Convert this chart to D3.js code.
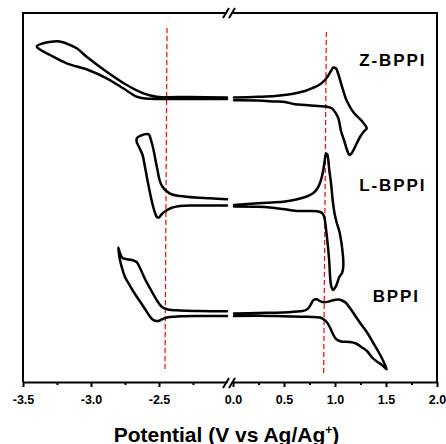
<!DOCTYPE html>
<html>
<head>
<meta charset="utf-8">
<script src="https://cdn.jsdelivr.net/npm/d3@7"></script>
<style>
  body { margin: 0; background: #fff; }
  svg { display: block; font-family: "Liberation Sans", Arial, sans-serif; }
  .curve { fill: none; stroke: #000; stroke-width: 2.5; stroke-linejoin: round; stroke-linecap: round; }
  .ref { fill: none; stroke: #ff0000; stroke-width: 1.2; stroke-dasharray: 5,3; }
  .frame { stroke: #000; stroke-width: 2; fill: none; }
  .axis path, .axis line { stroke: #000; stroke-width: 2; }
  .axis text { font-size: 12.5px; font-weight: bold; fill: #000; }
  .label { font-size: 17px; font-weight: bold; letter-spacing: 1.9px; }
  .title { font-size: 21px; font-weight: bold; }
</style>
</head>
<body>
<script>
// axis ticks
var tickLeft = [-3.5, -3.0, -2.5];
var minorLeft = [-3.25, -2.75, -2.25];
var tickRight = [0.0, 0.5, 1.0, 1.5, 2.0];
var minorRight = [0.25, 0.75, 1.25, 1.75];

// series names and label anchors [V, I]
var names = ["Z-BPPI", "L-BPPI", "BPPI"];
var labelPos = [[1.238, 316.3], [1.238, 191], [1.369, 79.7]];

// curves, [potential, current (offset, arb.)]
var zLeft = [[-2.0, 284.5], [-2.272, 285], [-2.517, 285.3], [-2.615, 288.7], [-2.737, 297], [-2.885, 310.3],
  [-3.032, 325.3], [-3.105, 333.7], [-3.154, 337], [-3.228, 340.5], [-3.277, 340.5], [-3.351, 338.7],
  [-3.399, 335.5], [-3.375, 332.5], [-3.301, 327], [-3.179, 318.7], [-3.020, 312], [-2.885, 303.7],
  [-2.763, 293.7], [-2.664, 285.3], [-2.615, 283.7], [-2.493, 283], [-2.272, 283], [-2.0, 283]];
var zRight = [[0.01, 284.5], [0.245, 285.2], [0.412, 286], [0.578, 288], [0.706, 291], [0.775, 293.7],
  [0.843, 297], [0.902, 302], [0.931, 306], [0.966, 312], [0.983, 314.5], [1.010, 313.5], [1.029, 309],
  [1.069, 295.3], [1.108, 283], [1.147, 275], [1.186, 269], [1.235, 264], [1.275, 259.5], [1.311, 253.7],
  [1.287, 251], [1.245, 245], [1.196, 235], [1.162, 228.5], [1.142, 227], [1.118, 232], [1.088, 242],
  [1.059, 251], [1.032, 264], [1.000, 270], [0.968, 273.7], [0.912, 275.5], [0.833, 276], [0.706, 277],
  [0.608, 277.7], [0.510, 280], [0.412, 280.5], [0.245, 281.5], [0.01, 281.7]];
var lLeft = [[-2.0, 182.7], [-2.125, 183.7], [-2.235, 184.5], [-2.346, 186], [-2.404, 187.5], [-2.441, 190.5],
  [-2.478, 196], [-2.496, 202], [-2.511, 212], [-2.526, 222], [-2.540, 232], [-2.559, 242], [-2.574, 247.5],
  [-2.590, 248], [-2.632, 246.5], [-2.662, 244], [-2.665, 240.5], [-2.647, 235], [-2.621, 227], [-2.603, 215],
  [-2.585, 202], [-2.566, 189], [-2.548, 178], [-2.529, 169], [-2.515, 165], [-2.5, 164.5], [-2.482, 167.5],
  [-2.456, 170.5], [-2.412, 174], [-2.346, 176], [-2.235, 176.5], [-2.0, 176.5]];
var lRight = [[0.01, 177], [0.245, 178.7], [0.382, 179.5], [0.510, 180.5], [0.608, 182.2], [0.676, 184],
  [0.735, 186], [0.787, 189], [0.824, 193], [0.853, 199], [0.873, 206], [0.885, 212], [0.897, 220],
  [0.905, 225.5], [0.912, 228.5], [0.925, 227.5], [0.934, 222], [0.944, 212], [0.961, 199], [0.977, 182],
  [0.995, 169], [1.015, 160], [1.044, 150], [1.059, 142], [1.072, 132], [1.081, 122], [1.081, 115],
  [1.069, 109], [1.042, 105], [1.010, 96], [0.980, 92], [0.961, 97], [0.951, 107], [0.944, 120],
  [0.934, 132], [0.922, 144], [0.907, 157], [0.895, 165], [0.873, 169], [0.824, 170.7], [0.706, 171],
  [0.608, 171.2], [0.510, 172.7], [0.363, 174.5], [0.245, 175.2], [0.01, 175.5]];
var bLeft = [[-2.0, 70.7], [-2.199, 71], [-2.346, 71.5], [-2.434, 72.5], [-2.478, 75], [-2.515, 81.5],
  [-2.559, 92], [-2.603, 103], [-2.640, 114], [-2.665, 120], [-2.699, 122], [-2.743, 123], [-2.768, 124],
  [-2.787, 129], [-2.799, 134.5], [-2.796, 130], [-2.787, 122], [-2.772, 114], [-2.75, 105], [-2.721, 98],
  [-2.691, 91], [-2.662, 85], [-2.632, 79], [-2.603, 73], [-2.574, 67], [-2.551, 63], [-2.529, 61.3],
  [-2.504, 61], [-2.478, 62.7], [-2.434, 64.8], [-2.346, 65.7], [-2.199, 66], [-2.0, 66]];
var bRight = [[0.01, 68.5], [0.245, 69], [0.490, 69.5], [0.657, 70.7], [0.716, 72], [0.745, 74.5],
  [0.770, 79], [0.789, 82], [0.819, 82.7], [0.853, 81], [0.892, 79.7], [0.941, 80.5], [0.980, 81.8],
  [1.034, 82.5], [1.069, 81.5], [1.103, 79.5], [1.157, 72.5], [1.206, 65], [1.265, 56.5], [1.324, 48],
  [1.373, 39.5], [1.422, 31], [1.466, 22.5], [1.507, 12.7], [1.461, 17], [1.417, 20], [1.363, 24.5],
  [1.314, 31], [1.265, 34.5], [1.206, 38.5], [1.137, 40], [1.059, 40.5], [1.010, 43], [0.980, 48],
  [0.951, 54.5], [0.922, 59.5], [0.892, 62.5], [0.853, 64.5], [0.735, 65.2], [0.490, 65.7], [0.245, 66.2],
  [0.01, 66]];

// red dashed guides
var refLeft = [[-2.441, 354], [-2.456, 11]];
var refRight = [[0.915, 350], [0.889, 9]];

var width = 446, height = 444;
var plotTop = 13, plotBottom = 382, plotLeft = 23, plotRight = 437;

var xL = d3.scaleLinear().domain([-3.5, -2.0]).range([plotLeft, 227]);
var xR = d3.scaleLinear().domain([0, 2.0]).range([233, plotRight]);
var y = d3.scaleLinear().domain([0, 369]).range([plotBottom, plotTop]);

var svg = d3.select("body").append("svg")
  .attr("width", width)
  .attr("height", height);

//frame
svg.append("path").attr("class", "frame")
  .attr("d", "M" + xL(-2.0) + "," + plotTop + "H" + plotLeft + "V" + plotBottom);
svg.append("path").attr("class", "frame")
  .attr("d", "M" + xR(0) + "," + plotTop + "H" + plotRight + "V" + plotBottom);

//axes
var fmt = function (d) { return d.toFixed(1); };
function addAxis(scale, major, minor) {
  svg.append("g").attr("class", "axis")
    .attr("transform", "translate(0," + plotBottom + ")")
    .call(d3.axisBottom(scale).tickValues(major).tickFormat(fmt).tickSize(5).tickSizeOuter(0).tickPadding(8));
  svg.append("g").attr("class", "axis")
    .attr("transform", "translate(0," + plotBottom + ")")
    .call(d3.axisBottom(scale).tickValues(minor).tickFormat("").tickSize(3).tickSizeOuter(0))
    .select(".domain").remove();
}
addAxis(xL, tickLeft, minorLeft);
addAxis(xR, tickRight, minorRight);

//break marks
[plotTop, plotBottom + 1].forEach(function (yy) {
  [226, 232].forEach(function (xx) {
    svg.append("line").attr("class", "frame")
      .attr("x1", xx - 3).attr("y1", yy + 5)
      .attr("x2", xx + 3).attr("y2", yy - 5);
  });
});

//guides
var lineL = d3.line().x(function (d) { return xL(d[0]); }).y(function (d) { return y(d[1]); });
var lineR = d3.line().x(function (d) { return xR(d[0]); }).y(function (d) { return y(d[1]); });
svg.append("path").attr("class", "ref").attr("d", lineL(refLeft));
svg.append("path").attr("class", "ref").attr("d", lineR(refRight));

//curves
var smooth = d3.curveCatmullRom.alpha(0.5);
var cL = d3.line().curve(smooth).x(function (d) { return xL(d[0]); }).y(function (d) { return y(d[1]); });
var cR = d3.line().curve(smooth).x(function (d) { return xR(d[0]); }).y(function (d) { return y(d[1]); });
[zLeft, lLeft, bLeft].forEach(function (s) {
  svg.append("path").attr("class", "curve").attr("d", cL(s));
});
[zRight, lRight, bRight].forEach(function (s) {
  svg.append("path").attr("class", "curve").attr("d", cR(s));
});

//labels
svg.selectAll(".label")
  .data(names)
  .enter().append("text")
  .attr("class", "label")
  .attr("x", function (d, i) { return xR(labelPos[i][0]); })
  .attr("y", function (d, i) { return y(labelPos[i][1]); })
  .text(function (d) { return d; });

//axis title
var t = svg.append("text").attr("class", "title")
  .attr("x", 226.5).attr("y", 442)
  .attr("text-anchor", "middle");
t.append("tspan").text("Potential (V vs Ag/Ag");
t.append("tspan").attr("dy", -8).attr("font-size", "12px").text("+");
t.append("tspan").attr("dy", 8).text(")");
</script>
</body>
</html>
